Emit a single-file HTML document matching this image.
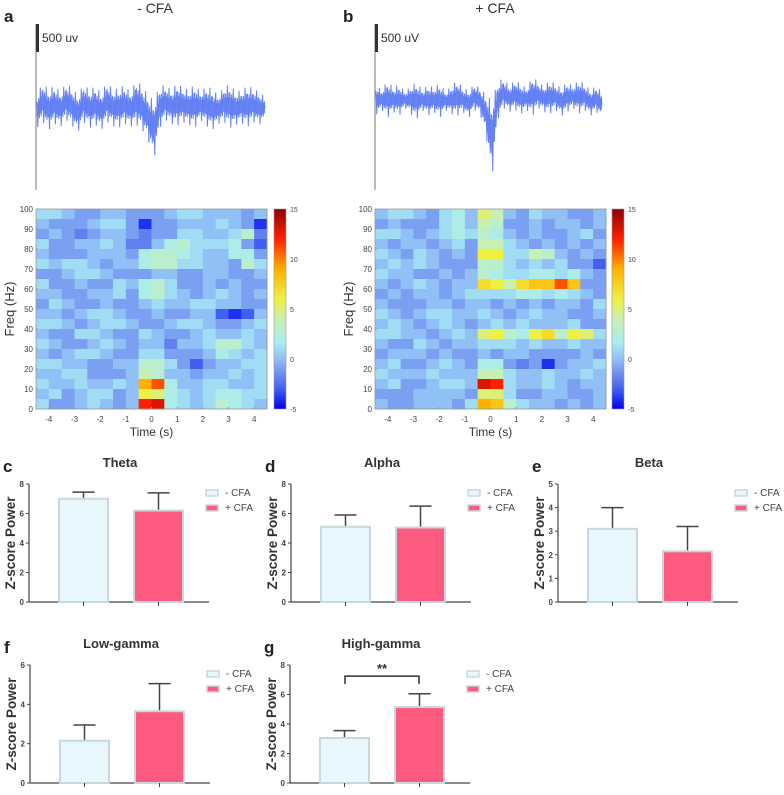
<!DOCTYPE html>
<html><head><meta charset="utf-8"><style>
body{margin:0;background:#fff;font-family:"Liberation Sans",Arial,sans-serif}
svg text{font-family:"Liberation Sans",Arial,sans-serif}
</style></head><body>
<svg id="fig" width="784" height="790" viewBox="0 0 784 790" xmlns="http://www.w3.org/2000/svg">
<defs>
<linearGradient id="cbar" x1="0" y1="1" x2="0" y2="0">
<stop offset="0" stop-color="#0000f0"/><stop offset="0.1" stop-color="#4060f0"/><stop offset="0.18" stop-color="#7090f0"/><stop offset="0.25" stop-color="#90c0f5"/><stop offset="0.33" stop-color="#a8ecf5"/><stop offset="0.45" stop-color="#c8f0b0"/><stop offset="0.55" stop-color="#f0f040"/><stop offset="0.7" stop-color="#ffb000"/><stop offset="0.85" stop-color="#ff2000"/><stop offset="1" stop-color="#900000"/>
</linearGradient>
</defs>
<text x="4" y="22" font-size="17" font-weight="bold" fill="#222">a</text>
<text x="343" y="22" font-size="17" font-weight="bold" fill="#222">b</text>
<text x="155" y="13" font-size="14" fill="#333" text-anchor="middle">- CFA</text>
<text x="495" y="13" font-size="14" fill="#333" text-anchor="middle">+ CFA</text>
<g id="traces"></g>
<g id="maps"></g>
<g id="bars"></g>
</svg>
<script>
// ---------- EEG traces (envelopes) ----------
const leftTop=[95,82,90,85,92,83,88,95,84,90,86,93,82,90,88,85,92,80,86,95,100,86,85,90,83,88,90,84,92,86,89,95,87,84,92,90,86,88,92,97];
const leftBottom=[128,122,130,124,127,120,126,132,122,128,125,130,122,126,128,124,127,125,130,140,160,128,120,124,126,122,125,128,120,126,130,124,122,128,125,123,127,122,125,120];
const rightTop=[85,90,80,88,84,92,86,82,90,85,88,83,92,86,80,88,90,84,88,95,100,82,78,86,80,84,88,76,82,86,80,84,88,82,86,80,84,90,86,92];
const rightBottom=[115,110,118,112,116,108,114,120,110,116,112,118,110,114,116,112,118,110,115,135,180,120,108,112,110,114,110,116,108,112,114,110,116,112,108,114,110,116,112,118];

// ---------- Heatmaps: rows from 100 Hz (top) down to 0 Hz, 18 time bins -4.5..4.5 s ----------
const timeTicks=[-4,-3,-2,-1,0,1,2,3,4];
const freqTicks=[0,10,20,30,40,50,60,70,80,90,100];
const cbarTicks=[-5,0,5,10,15];
const leftMap=[
[1,1,0,-1,-1,0,0,-1,-1,-1,0,1,1,0,0,0,-1,0],
[0,-1,-1,-1,0,1,1,-1,-4,-1,-1,0,0,0,1,0,-1,-4],
[-1,0,-1,-2,-1,0,0,-1,-2,-1,-1,1,1,0,0,1,3,-2],
[1,-1,-1,0,0,1,0,-2,-2,0,2,3,1,1,1,2,-1,-3],
[0,-1,-1,-1,0,0,0,-1,2,3,3,2,1,0,0,2,2,-1],
[1,0,1,1,0,-1,0,0,2,3,3,1,1,0,0,-1,3,1],
[-1,-1,0,1,1,0,-1,-1,-1,0,0,-1,-1,0,0,-1,-1,0],
[1,-1,-1,0,-1,-1,1,0,2,3,1,-1,-1,0,-1,0,-1,-1],
[0,0,-1,-1,0,0,1,-1,2,3,1,0,-1,0,1,0,-1,0],
[-1,1,0,-1,-1,0,-1,-1,0,1,0,0,1,1,0,0,-1,-1],
[0,0,-1,0,1,1,0,-1,-1,0,-1,-1,0,0,-3,-4,-3,0],
[1,1,0,-1,0,1,1,0,-1,-1,0,1,1,0,-1,-1,0,1],
[0,-1,-1,1,1,0,-1,-1,1,0,-1,-1,0,1,0,0,1,0],
[1,0,-1,-1,0,1,0,-1,0,0,-2,0,0,1,3,3,1,0],
[0,-1,0,1,1,0,-1,-1,1,1,-1,-1,-1,0,2,1,0,1],
[1,1,0,0,-1,-1,0,0,3,3,1,-1,-3,-1,0,0,1,1],
[0,0,1,1,-1,-1,-1,0,4,3,0,0,-1,0,0,1,0,1],
[1,0,0,1,0,0,1,0,9,11,2,0,0,1,1,0,0,1],
[0,1,-1,0,1,1,-1,0,6,5,2,1,0,1,2,2,1,1],
[1,-1,-1,0,1,0,-1,0,12,13,2,1,0,1,3,2,1,0]];
const rightMap=[
[0,1,1,0,-1,1,2,0,5,4,0,-1,1,0,0,-1,-1,0],
[-1,0,-1,-1,-1,1,2,0,4,3,-1,-1,0,-1,0,0,-1,0],
[1,1,0,-1,0,1,2,1,3,2,0,-1,0,-1,-1,0,1,-1],
[0,-1,0,0,-1,0,1,-1,4,4,1,0,-1,0,-1,0,-1,0],
[1,0,-1,1,0,-1,0,-1,6,6,1,1,4,3,0,-1,0,-1],
[0,1,0,1,0,-1,-1,-1,3,3,1,0,1,0,1,-1,-1,-3],
[1,0,0,-1,-1,0,-1,0,3,2,1,1,2,2,1,2,0,-1],
[0,-1,0,1,0,-1,0,0,7,6,4,7,8,8,11,8,-1,-1],
[-1,0,-1,0,0,-1,0,1,1,1,1,2,2,1,2,1,0,-1],
[0,-1,-1,-1,0,0,-1,0,0,-1,0,-1,0,-1,0,0,-1,1],
[1,0,-1,0,1,1,0,0,1,0,-1,0,1,0,0,-1,-1,0],
[0,1,0,-1,0,1,0,-1,0,1,0,1,0,0,0,1,-1,-1],
[1,1,0,0,-1,0,1,0,5,6,3,2,6,7,3,6,5,1],
[0,-1,-1,1,0,-1,0,0,1,1,1,0,1,0,0,1,0,0],
[-1,0,0,0,-1,0,-1,-1,0,-1,0,0,-1,-1,-1,-1,0,-1],
[0,1,-1,-1,0,1,0,-1,2,2,-1,-2,-1,-4,-1,0,0,1],
[1,0,0,0,1,0,0,0,4,4,1,0,0,1,0,0,1,0],
[0,1,-1,-1,0,1,1,0,13,12,1,0,0,1,0,-1,0,0],
[-1,-1,-1,0,0,0,0,-1,5,5,1,-1,-1,0,0,-1,-1,0],
[0,-1,-1,0,0,0,-1,1,9,8,3,1,0,0,-1,0,-1,0]];

// ---------- Bar charts ----------
const bandNames=["Theta","Alpha","Beta","Low-gamma","High-gamma"];
const minusMean=[7.0,5.1,3.1,2.15,3.05];
const minusErr=[0.45,0.8,0.9,0.8,0.5];
const plusMean=[6.2,5.05,2.15,3.65,5.15];
const plusErr=[1.2,1.45,1.05,1.4,0.9];
const yMaxes=[8,8,5,6,8];
const yTickSteps=[2,2,1,2,2];

const NS="http://www.w3.org/2000/svg";
function mk(tag,attrs,parent,text){const e=document.createElementNS(NS,tag);for(const k in attrs)e.setAttribute(k,attrs[k]);if(text!==undefined)e.textContent=text;parent.appendChild(e);return e;}

// traces
const tr=document.getElementById('traces');
function drawTrace(top,bot,x0,x1,axisX,name){
  const ax=mk('line',{x1:axisX,y1:24,x2:axisX,y2:190,stroke:'#777','stroke-width':1},tr);
  
  
  const sb=mk('rect',{x:axisX,y:24,width:3,height:28,fill:'#333'},tr);
  
  
  const n=top.length;const seg=(x1-x0)/(n-1);
  const sub=7;
  let pts=[];
  for(let i=0;i<n-1;i++){
    for(let k=0;k<sub;k++){
      const f=k/sub;
      const tp=top[i]+(top[i+1]-top[i])*f, bt=bot[i]+(bot[i+1]-bot[i])*f;
      const mid=(tp+bt)/2, half=(bt-tp)/2;
      const amp=(k%3===1)?1:0.6;
      const y=(k%2===0)?mid-half*amp:mid+half*amp;
      pts.push((x0+seg*(i+f)).toFixed(1)+','+y.toFixed(1));
    }
  }
  pts.push(x1+','+((top[n-1]+bot[n-1])/2));
  const core=mk('polygon',{points:top.map((t,i)=>(x0+seg*i)+','+(t+(bot[i]-t)*0.3)).concat(bot.map((b,i)=>(x0+seg*i)+','+(b-(b-top[i])*0.3)).reverse()).join(' '),fill:'#6f8cf5'},tr);
  
  
  const p=mk('polyline',{points:pts.join(' '),fill:'none',stroke:'#6280f2','stroke-width':1},tr);
  
  
}
drawTrace(leftTop,leftBottom,37,265,36,'trace-minus-cfa');
mk('text',{x:42,y:42,'font-size':12,fill:'#333'},tr,'500 uv');
drawTrace(rightTop,rightBottom,376,602,375,'trace-plus-cfa');
mk('text',{x:381,y:42,'font-size':12,fill:'#333'},tr,'500 uV');

// colormap
const cstops=[[-5,[0,0,240]],[-3,[64,96,240]],[-1.5,[112,144,240]],[0,[144,192,245]],[1.5,[168,236,245]],[4,[200,240,176]],[6,[240,240,64]],[9,[255,176,0]],[12,[255,32,0]],[15,[144,0,0]]];
function cmap(v){v=Math.max(-5,Math.min(15,v));for(let i=0;i<cstops.length-1;i++){const a=cstops[i],b=cstops[i+1];if(v<=b[0]){const t=(v-a[0])/(b[0]-a[0]);const c=a[1].map((x,k)=>Math.round(x+(b[1][k]-x)*t));return 'rgb('+c.join(',')+')';}}return 'rgb(144,0,0)';}

const mg=document.getElementById('maps');
function drawMap(data,x0,x1,y0,y1,cbx,name){
  const tMin=-4.5,tMax=4.5,fMin=0,fMax=100;
  const X=t=>x0+(t-tMin)/(tMax-tMin)*(x1-x0);
  const Y=f=>y1-(f-fMin)/(fMax-fMin)*(y1-y0);
  const nr=data.length,nc=data[0].length;
  const g=mk('g',{},mg);
  
  
  for(let r=0;r<nr;r++)for(let c=0;c<nc;c++){
    const tA=tMin+c*(tMax-tMin)/nc,tB=tMin+(c+1)*(tMax-tMin)/nc;
    const fTop=fMax-r*(fMax-fMin)/nr,fBot=fMax-(r+1)*(fMax-fMin)/nr;
    const cell=mk('rect',{x:X(tA),y:Y(fTop),width:X(tB)-X(tA)+0.5,height:Y(fBot)-Y(fTop)+0.5,fill:cmap(data[r][c])},g);
    
    
  }
  const fr=mk('rect',{x:x0,y:y0,width:x1-x0,height:y1-y0,fill:'none',stroke:'#999','stroke-width':0.8},mg);
  
  
  freqTicks.forEach(f=>{
    const t=mk('text',{x:x0-3,y:Y(f)+3,'font-size':8,fill:'#444','text-anchor':'end'},mg,String(f));
    
    
    mk('line',{x1:x0,y1:Y(f),x2:x0+2,y2:Y(f),stroke:'#999'},mg);
  });
  timeTicks.forEach(tv=>{
    const t=mk('text',{x:X(tv),y:y1+13,'font-size':8,fill:'#444','text-anchor':'middle'},mg,String(tv));
    
    
    mk('line',{x1:X(tv),y1:y1,x2:X(tv),y2:y1-2,stroke:'#999'},mg);
  });
  const xt=mk('text',{x:(x0+x1)/2,y:y1+27,'font-size':12,fill:'#333','text-anchor':'middle'},mg,'Time (s)');
  
  
  const yt=mk('text',{x:0,y:0,'font-size':13,fill:'#333','text-anchor':'middle',transform:'translate('+(x0-22)+','+((y0+y1)/2)+') rotate(-90)'},mg,'Freq (Hz)');
  
  
  const cb=mk('rect',{x:cbx,y:y0,width:12,height:y1-y0,fill:'url(#cbar)',stroke:'#999','stroke-width':0.6},mg);
  
  
  cbarTicks.forEach(v=>{
    const yy=y1-(v+5)/20*(y1-y0);
    const t=mk('text',{x:cbx+16,y:yy+3,'font-size':7,fill:'#444'},mg,String(v));
    
    
  });
}
drawMap(leftMap,36,267,209,409,274,'heatmap-minus-cfa');
drawMap(rightMap,375,606,209,409,612,'heatmap-plus-cfa');

// bars
const bg=document.getElementById('bars');
const panels=[{ax:29,top:484,base:602,lab:'c'},{ax:291,top:484,base:602,lab:'d'},{ax:558,top:484,base:602,lab:'e'},{ax:30,top:665,base:783,lab:'f'},{ax:290,top:665,base:783,lab:'g'}];
panels.forEach((P,i)=>{
  const g=mk('g',{},bg);
  
  
  const Y=v=>P.base-v/yMaxes[i]*(P.base-P.top);
  mk('text',{x:P.ax-26,y:P.top-12,'font-size':17,'font-weight':'bold',fill:'#222'},g,P.lab);
  const tt=mk('text',{x:P.ax+91,y:P.top-17,'font-size':13,'font-weight':'bold',fill:'#333','text-anchor':'middle'},g,bandNames[i]);
  
  
  const yl=mk('text',{x:0,y:0,'font-size':13.5,'font-weight':'bold',fill:'#333','text-anchor':'middle',transform:'translate('+(P.ax-14)+','+((P.top+P.base)/2)+') rotate(-90)'},g,'Z-score Power');
  
  
  mk('line',{x1:P.ax,y1:P.top,x2:P.ax,y2:P.base,stroke:'#444','stroke-width':1.2},g);
  mk('line',{x1:P.ax,y1:P.base,x2:P.ax+180,y2:P.base,stroke:'#444','stroke-width':1.2},g);
  for(let v=0;v<=yMaxes[i];v+=yTickSteps[i]){
    mk('line',{x1:P.ax-3,y1:Y(v),x2:P.ax,y2:Y(v),stroke:'#444'},g);
    const t=mk('text',{x:P.ax-5,y:Y(v)+3,'font-size':8,'font-weight':'bold',fill:'#444','text-anchor':'end'},g,String(v));
    
    
  }
  const series=[[minusMean[i],minusErr[i],'#e8f6fd',30,'bar-minus-cfa'],[plusMean[i],plusErr[i],'#fd5a80',105,'bar-plus-cfa']];
  series.forEach(s=>{
    const x=P.ax+s[3],w=49;
    mk('line',{x1:x+w/2,y1:Y(s[0]),x2:x+w/2,y2:Y(s[0]+s[1]),stroke:'#444','stroke-width':1.5},g);
    mk('line',{x1:x+w/2-11,y1:Y(s[0]+s[1]),x2:x+w/2+11,y2:Y(s[0]+s[1]),stroke:'#444','stroke-width':1.5},g);
    const b=mk('rect',{x:x,y:Y(s[0]),width:w,height:P.base-Y(s[0]),fill:s[2],stroke:'#c8d8de','stroke-width':2},g);
    
    
    mk('line',{x1:x+w/2,y1:P.base,x2:x+w/2,y2:P.base+4,stroke:'#444'},g);
  });
  const lx=P.ax+177;
  mk('rect',{x:lx,y:P.top+6,width:12,height:6,fill:'#e8f6fd',stroke:'#c8d8de','stroke-width':1.5},g);
  mk('text',{x:lx+19,y:P.top+12,'font-size':10,fill:'#444'},g,'- CFA');
  mk('rect',{x:lx,y:P.top+21,width:12,height:6,fill:'#fd5a80',stroke:'#c8d8de','stroke-width':1.5},g);
  mk('text',{x:lx+19,y:P.top+27,'font-size':10,fill:'#444'},g,'+ CFA');
  if(i===4){
    const br=mk('path',{d:'M'+(P.ax+55)+','+Y(6.7)+'V'+Y(7.25)+'H'+(P.ax+129)+'V'+Y(6.7),fill:'none',stroke:'#333','stroke-width':1.5},g);
    
    
    const st=mk('text',{x:P.ax+92,y:Y(7.25)-3,'font-size':13,'font-weight':'bold',fill:'#333','text-anchor':'middle'},g,'**');
    
    
  }
});
</script>
</body></html>
